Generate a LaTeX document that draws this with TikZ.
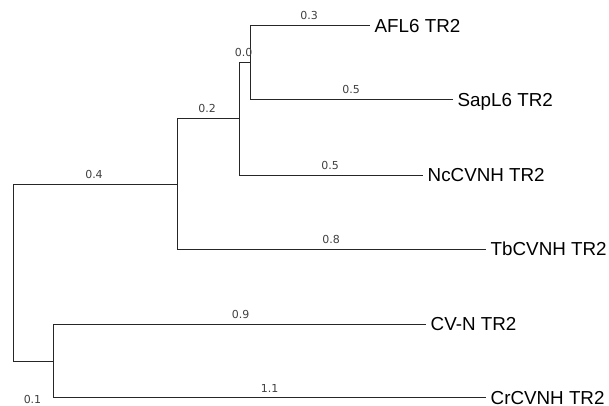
\documentclass[tikz,border=0pt]{standalone}
\usepackage{fontspec}
\setmainfont{Liberation Sans}
\newfontfamily\lenfont{DejaVu Sans}
\pgfdeclarelayer{edgelayer}
\pgfdeclarelayer{nodelayer}
\pgfsetlayers{edgelayer,nodelayer,main}
\tikzstyle{edge}=[draw=black!85, line width=1pt]
\tikzstyle{leaf}=[anchor=west, inner xsep=4.5pt, inner ysep=0pt, font=\fontsize{18.8}{21}\selectfont, text height=13.4pt, text depth=0pt]
\tikzstyle{brlen}=[anchor=base, inner sep=0pt, font=\lenfont\fontsize{11}{12}\selectfont, text=black!75]

\begin{document}
\begin{tikzpicture}[x=1pt, y=-1pt]
				\useasboundingbox (0, 0) rectangle (609, 406);
				\begin{pgfonlayer}{nodelayer}
					\coordinate (0) at (13, 272);
					\coordinate (1) at (177, 184);
					\coordinate (2) at (239, 119);
					\coordinate (3) at (250, 63);
					\coordinate (4) at (53, 361);
					\node [style=leaf] (5) at (370, 26) {AFL6 TR2};
					\node [style=leaf] (6) at (453, 100) {SapL6 TR2};
					\node [style=leaf] (7) at (423, 175) {NcCVNH TR2};
					\node [style=leaf] (8) at (486, 249) {TbCVNH TR2};
					\node [style=leaf] (9) at (426, 324) {CV-N TR2};
					\node [style=leaf] (10) at (486, 397.5) {CrCVNH TR2};
					\node [style=brlen] (11) at (94, 178) {0.4};
					\node [style=brlen] (12) at (207, 113) {0.2};
					\node [style=brlen] (13) at (243.5, 57) {0.0};
					\node [style=brlen] (14) at (309, 20) {0.3};
					\node [style=brlen] (15) at (351, 94) {0.5};
					\node [style=brlen] (16) at (330, 169) {0.5};
					\node [style=brlen] (17) at (331, 243) {0.8};
					\node [style=brlen] (18) at (240.5, 318) {0.9};
					\node [style=brlen] (19) at (269.5, 392) {1.1};
					\node [style=brlen] (20) at (32.5, 403) {0.1};
				\end{pgfonlayer}
				\begin{pgfonlayer}{edgelayer}
					\draw [style=edge] (0) |- (1);
					\draw [style=edge] (1) |- (2);
					\draw [style=edge] (2) |- (3);
					\draw [style=edge] (3) |- (5.west);
					\draw [style=edge] (3) |- (6.west);
					\draw [style=edge] (2) |- (7.west);
					\draw [style=edge] (1) |- (8.west);
					\draw [style=edge] (0) |- (4);
					\draw [style=edge] (4) |- (9.west);
					\draw [style=edge] (4) |- (10.west);
				\end{pgfonlayer}
			\end{tikzpicture}
\end{document}
